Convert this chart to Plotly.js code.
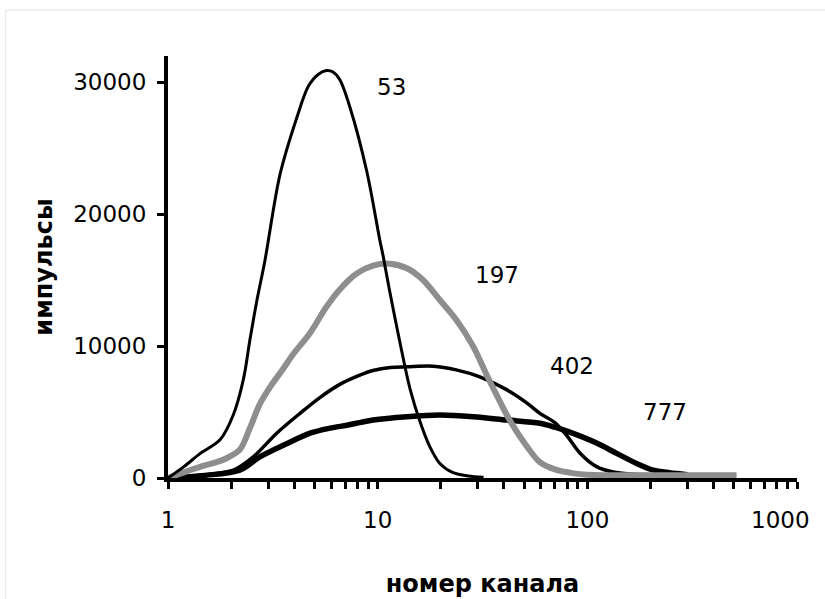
<!DOCTYPE html>
<html>
<head>
<meta charset="utf-8">
<script src="https://cdn.plot.ly/plotly-3.0.1.min.js"></script>
<style>
  html, body { margin: 0; padding: 0; background: #ffffff; }
  #chart { width: 825px; height: 599px; }
</style>
</head>
<body>
<div id="chart"></div>
<script>
// Pulse-height spectra: counts per channel for four sources (channel axis is logarithmic)
const ch53   = [1, 1.2, 1.42, 1.77, 2.05, 2.29, 2.46, 2.65, 2.9, 3.42, 4.11, 4.67, 5.2, 5.71, 6.1, 6.6, 7.38, 8.86, 10.25, 10.6, 11.4, 12.8, 14.3, 15.9, 17.7, 19.8, 22.9, 27, 32];
const cnt53  = [0, 900, 1850, 2900, 4800, 7500, 10500, 13400, 16500, 23000, 27300, 29700, 30600, 30900, 30800, 30200, 28100, 23300, 18000, 16900, 14200, 10200, 6700, 4300, 2400, 1100, 400, 150, 60];

const ch197  = [1, 1.2, 1.42, 1.7, 1.9, 2.2, 2.46, 2.74, 3.1, 3.55, 3.96, 4.76, 5.71, 6.6, 7.95, 9.5, 11.4, 13.8, 16.5, 19.8, 23.7, 28.5, 33.6, 38, 42.6, 50.4, 59.4, 70, 86, 100, 200, 515];
const cnt197 = [0, 450, 850, 1200, 1500, 2150, 3800, 5600, 7000, 8300, 9400, 11000, 13000, 14300, 15500, 16100, 16250, 15900, 15000, 13500, 12000, 10000, 7600, 5900, 4400, 2600, 1200, 650, 350, 250, 200, 200];

const ch402  = [1, 1.5, 2.05, 2.55, 3.3, 4.26, 5.3, 6.6, 8.22, 9.5, 11.5, 13.8, 18.4, 23.7, 30.7, 41.2, 51.4, 59.4, 70, 80, 92.1, 110.7, 133, 160, 200];
const cnt402 = [0, 250, 600, 1600, 3400, 4900, 6100, 7100, 7800, 8150, 8380, 8430, 8480, 8200, 7670, 6700, 5700, 4900, 4200, 3200, 1900, 860, 450, 300, 250];

const ch777  = [1, 1.5, 2.2, 2.74, 3.68, 4.76, 5.93, 7.13, 8.22, 9.5, 13.8, 19.8, 28.5, 41.2, 59.4, 70, 80, 110.7, 138, 172, 206, 246, 300];
const cnt777 = [0, 200, 600, 1600, 2600, 3400, 3780, 4000, 4200, 4400, 4650, 4770, 4650, 4400, 4150, 3850, 3550, 2650, 1870, 1100, 600, 400, 250];

// Series labels and where they sit (channel, counts)
const seriesNames = ['53', '197', '402', '777'];
const labelChannel = [11.7, 37.1, 84.5, 234];
const labelCounts  = [29620, 15380, 8480, 5000];

// Axis ticks; the label of the last decade is drawn separately, pulled inside the frame
const xTickVals = [1, 10, 100, 1000];
const xTickText = ['1', '10', '100', ''];
const lastDecade = 1000;
const lastDecadeText = '1000';
const xMinorVals = [2, 3, 4, 5, 6, 7, 8, 9, 20, 30, 40, 50, 60, 70, 80, 90, 200, 300, 400, 500, 600, 700, 800, 900];
const yTickVals = [0, 10000, 20000, 30000];
const yTickText = ['0', '10000', '20000', '30000'];

const lineShape = { shape: 'spline', smoothing: 0.9 };

const traces = [
  { x: ch402, y: cnt402, mode: 'lines', line: Object.assign({ color: '#000000', width: 3.5 }, lineShape), name: seriesNames[2] },
  { x: ch777, y: cnt777, mode: 'lines', line: Object.assign({ color: '#000000', width: 5.5 }, lineShape), name: seriesNames[3] },
  { x: ch197, y: cnt197, mode: 'lines', line: Object.assign({ color: '#8e8e8e', width: 6 }, lineShape), name: seriesNames[1] },
  { x: ch53,  y: cnt53,  mode: 'lines', line: Object.assign({ color: '#000000', width: 3 }, lineShape), name: seriesNames[0] }
];

const labelFont = { family: 'DejaVu Sans, Verdana, sans-serif', size: 23, color: '#000000' };

const annotations = seriesNames.map((s, i) => ({
  x: Math.log10(labelChannel[i]), y: labelCounts[i], xref: 'x', yref: 'y',
  text: s, showarrow: false, font: labelFont
}));
annotations.push({
  x: Math.log10(lastDecade), y: 0, xref: 'x', yref: 'paper',
  xanchor: 'right', yanchor: 'top', xshift: 15, yshift: -27,
  text: lastDecadeText, showarrow: false, font: labelFont
});

const titleFont = { family: 'DejaVu Sans, Verdana, sans-serif', size: 24, color: '#000000', weight: 'bold' };

const layout = {
  width: 825, height: 599,
  margin: { l: 168, r: 28, t: 56, b: 121 },
  paper_bgcolor: '#ffffff', plot_bgcolor: '#ffffff',
  showlegend: false,
  xaxis: {
    type: 'log', range: [0, 3],
    tickmode: 'array', tickvals: xTickVals, ticktext: xTickText,
    ticks: 'outside', ticklen: 7, tickwidth: 3, tickcolor: '#000000',
    ticklabelstandoff: 11,
    minor: { tickmode: 'array', tickvals: xMinorVals, ticks: 'outside', ticklen: 7, tickwidth: 3, tickcolor: '#000000', showgrid: false },
    showline: true, linecolor: '#000000', linewidth: 4,
    showgrid: false, zeroline: false,
    tickfont: labelFont,
    title: { text: 'номер канала', font: titleFont, standoff: 45 }
  },
  yaxis: {
    range: [0, 32000],
    tickmode: 'array', tickvals: yTickVals, ticktext: yTickText,
    ticks: 'outside', ticklen: 7, tickwidth: 3, tickcolor: '#000000',
    ticklabelstandoff: 6,
    showline: true, linecolor: '#000000', linewidth: 4,
    showgrid: false, zeroline: false,
    tickfont: labelFont,
    title: { text: 'импульсы', font: titleFont, standoff: 15 }
  },
  annotations: annotations,
  shapes: [
    { type: 'rect', xref: 'paper', yref: 'paper', x0: -0.258, x1: 1.3, y0: -0.4, y1: 1.109,
      line: { color: '#e2e6e6', width: 1 }, layer: 'below' }
  ]
};

Plotly.newPlot('chart', traces, layout, { displayModeBar: false, staticPlot: true });
</script>
</body>
</html>
